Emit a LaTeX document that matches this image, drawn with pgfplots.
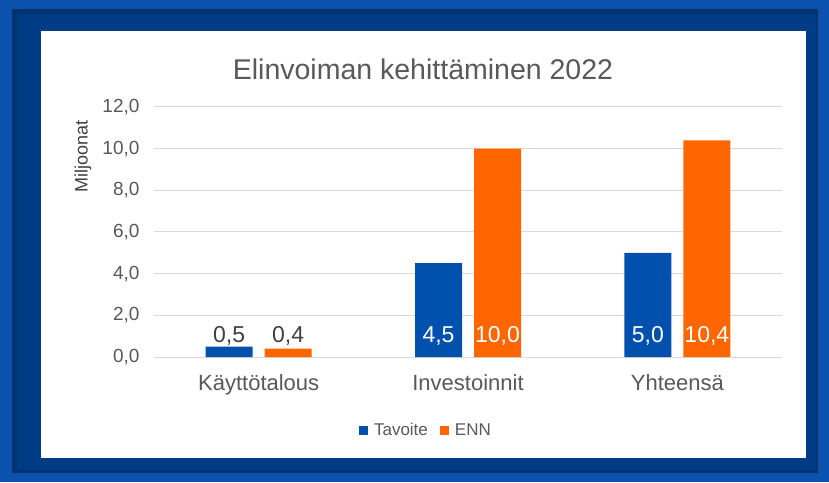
\documentclass[border=0pt]{standalone}
\usepackage{pgfplots}
\pgfplotsset{compat=1.18}
\usepackage{fontspec}
\setmainfont{Liberation Sans}
\definecolor{tavblue}{HTML}{0050AE}
\definecolor{ennorange}{HTML}{FF6600}
\definecolor{txtgray}{HTML}{595959}
\definecolor{dgray}{HTML}{404040}
\definecolor{gridgray}{HTML}{D9D9D9}
\definecolor{frameout}{HTML}{0A52AE}
\definecolor{framein}{HTML}{003C86}
\definecolor{frameshadow}{HTML}{03336F}
\begin{document}
\begin{tikzpicture}[x=1pt,y=1pt]
\fill[frameout] (0,0) rectangle (829,482);
\fill[frameshadow] (12,9) rectangle (818,473);
\fill[framein] (17,12) rectangle (816,468);
\fill[white] (41,24) rectangle (806,451);
\node[font=\fontsize{28.5}{30}\selectfont, text=txtgray] at (423,413) {Elinvoiman kehittäminen 2022};
\node[font=\fontsize{18}{20}\selectfont, text=dgray, rotate=90] at (83,326) {Miljoonat};
\begin{axis}[
  at={(154pt,125pt)}, anchor=south west,
  scale only axis, width=628pt, height=250pt,
  ybar=12pt, bar width=47pt,
  xmin=-0.5, xmax=2.5, ymin=0, ymax=12,
  xtick={0,1,2},
  xticklabels={Käyttötalous, Investoinnit, Yhteensä},
  ytick={0,2,...,12},
  axis line style={draw=none},
  major tick style={draw=none},
  ymajorgrids, grid style={gridgray, line width=1pt},
  /pgf/number format/assume math mode=true,
  yticklabel={\pgfmathprintnumber[fixed, fixed zerofill, precision=1, use comma]{\tick}},
  yticklabel style={font=\fontsize{19}{21}\selectfont, text=txtgray, xshift=-11pt},
  xticklabel style={font=\fontsize{22}{24}\selectfont, text=txtgray, yshift=-10pt},
  legend columns=2,
  legend style={at={(0.433,-0.292)}, anchor=center, draw=none, fill=none,
    font=\fontsize{17}{19}\selectfont, text=txtgray,
    /tikz/every even column/.append style={column sep=10pt},
    inner sep=0pt},
]
\addplot[fill=tavblue, draw=none,
  legend image code/.code={\fill[tavblue] (0pt,-4.5pt) rectangle (9pt,4.5pt);\path (0pt,0pt) (13pt,0pt);}]
  coordinates {(0,0.5) (1,4.5) (2,5.0)};
\addplot[fill=ennorange, draw=none,
  legend image code/.code={\fill[ennorange] (0pt,-4.5pt) rectangle (9pt,4.5pt);\path (0pt,0pt) (13pt,0pt);}]
  coordinates {(0,0.4) (1,10.0) (2,10.4)};
\legend{Tavoite, ENN}
\begin{scope}[font=\fontsize{23}{25}\selectfont]
\node[anchor=base, text=dgray] at (axis cs:-0.141,0.72) {0,5};
\node[anchor=base, text=dgray] at (axis cs:0.141,0.72) {0,4};
\node[anchor=base, text=white] at (axis cs:0.859,0.72) {4,5};
\node[anchor=base, text=white] at (axis cs:1.141,0.72) {10,0};
\node[anchor=base, text=white] at (axis cs:1.859,0.72) {5,0};
\node[anchor=base, text=white] at (axis cs:2.141,0.72) {10,4};
\end{scope}
\end{axis}
\end{tikzpicture}
\end{document}
